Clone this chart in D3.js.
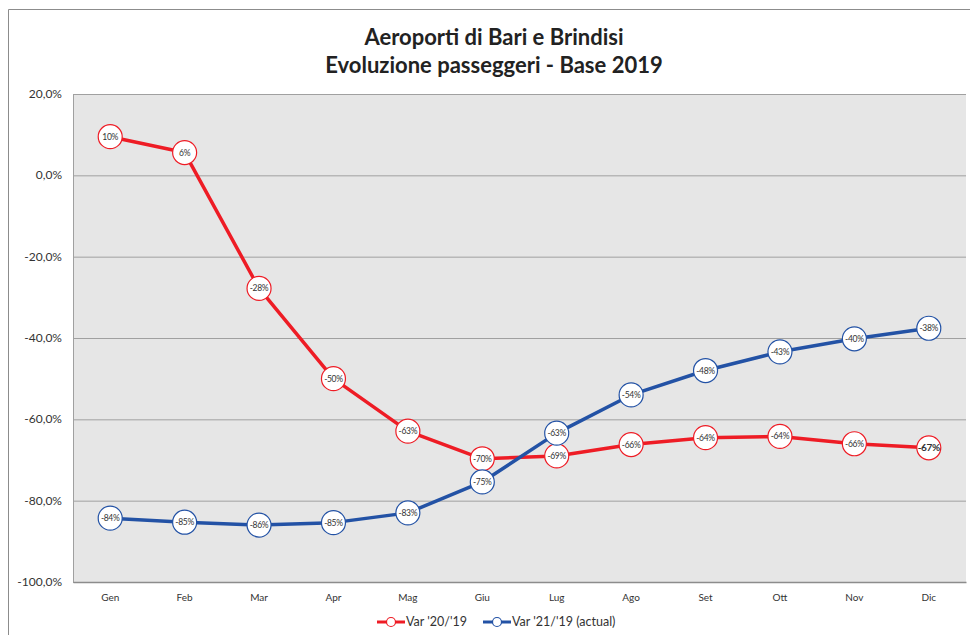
<!DOCTYPE html>
<html>
<head>
<meta charset="utf-8">
<script src="https://cdn.jsdelivr.net/npm/d3@7"></script>
<style>
  body { margin: 0; background: #fff; }
  svg { display: block; font-family: Lato, "Open Sans", sans-serif; }
</style>
</head>
<body>
<div id="chart"></div>
<script>
const WIDTH = 970;
const HEIGHT = 635;
const MARGINS = {left: 73, right: 4, top: 94, bottom: 53};

// data
const months = ["Gen", "Feb", "Mar", "Apr", "Mag", "Giu", "Lug", "Ago", "Set", "Ott", "Nov", "Dic"];
const var20 = [9.5, 5.6, -27.8, -50.0, -62.9, -69.7, -69.0, -66.2, -64.5, -64.2, -66.0, -67.0];
const var21 = [-84.3, -85.3, -86.0, -85.4, -83.0, -75.4, -63.4, -54.0, -48.0, -43.4, -40.2, -37.6];
const yTicks = [20, 0, -20, -40, -60, -80, -100];
const seriesNames = ["Var '20/'19", "Var '21/'19 (actual)"];
const seriesColors = ["#ee1c25", "#2352a5"];

const VIS_WIDTH = WIDTH - MARGINS.left - MARGINS.right;
const VIS_HEIGHT = HEIGHT - MARGINS.top - MARGINS.bottom;

const FRAME = d3.select("#chart")
  .append("svg")
    .attr("width", WIDTH)
    .attr("height", HEIGHT);

// outer chart border
FRAME.append("path")
  .attr("d", "M8.5," + HEIGHT + "V9.5H" + WIDTH)
  .attr("fill", "none")
  .attr("stroke", "#8c8c8c")
  .attr("stroke-width", 1);

// title
const TITLE = FRAME.append("text")
  .attr("text-anchor", "middle")
  .attr("font-weight", "bold")
  .attr("font-size", 22)
  .attr("fill", "#222");
TITLE.append("tspan").attr("x", 494).attr("y", 45).text("Aeroporti di Bari e Brindisi");
TITLE.append("tspan").attr("x", 494).attr("y", 73).text("Evoluzione passeggeri - Base 2019");

const X_SCALE = d3.scaleBand()
  .domain(months)
  .range([MARGINS.left, MARGINS.left + VIS_WIDTH]);

const Y_SCALE = d3.scaleLinear()
  .domain([-100, 20])
  .range([MARGINS.top + VIS_HEIGHT, MARGINS.top]);

const xc = (d) => X_SCALE(d) + X_SCALE.bandwidth() / 2;

// plot background
FRAME.append("rect")
  .attr("x", MARGINS.left)
  .attr("y", MARGINS.top)
  .attr("width", VIS_WIDTH)
  .attr("height", VIS_HEIGHT)
  .attr("fill", "#e6e6e6");

// grid
FRAME.append("g")
  .attr("transform", "translate(" + MARGINS.left + ",0)")
  .call(d3.axisLeft(Y_SCALE).tickValues(yTicks).tickSize(-VIS_WIDTH).tickFormat(""))
  .call(g => g.select(".domain").attr("stroke", "#a0a0a0"))
  .call(g => g.selectAll(".tick line").attr("stroke", "#a0a0a0"));

// y labels
FRAME.append("g")
  .selectAll("text")
  .data(yTicks)
  .enter()
  .append("text")
    .attr("x", 62)
    .attr("y", (d) => Y_SCALE(d) + 4)
    .attr("text-anchor", "end")
    .attr("font-size", 12)
    .attr("fill", "#333")
    .text((d) => d.toFixed(1).replace(".", ",") + "%");

// x axis
FRAME.append("g")
  .attr("transform", "translate(0," + (MARGINS.top + VIS_HEIGHT) + ")")
  .call(d3.axisBottom(X_SCALE).tickSize(0).tickPadding(12))
  .call(g => g.select(".domain").attr("stroke", "#8c8c8c").attr("stroke-width", 1.5))
  .call(g => g.selectAll("text").attr("font-size", 10).attr("fill", "#333").attr("font-family", "Lato, sans-serif"));

// lines + markers
const series = [var20, var21];
const line = d3.line()
  .x((d, i) => xc(months[i]))
  .y((d) => Y_SCALE(d));

series.forEach((vals, s) => {
  FRAME.append("path")
    .datum(vals)
    .attr("d", line)
    .attr("fill", "none")
    .attr("stroke", seriesColors[s])
    .attr("stroke-width", 3.5)
    .attr("stroke-linejoin", "round");
});

series.forEach((vals, s) => {
  const G = FRAME.append("g");
  G.selectAll("circle")
    .data(vals)
    .enter()
    .append("circle")
      .attr("cx", (d, i) => xc(months[i]))
      .attr("cy", (d) => Y_SCALE(d))
      .attr("r", 12)
      .attr("fill", "#fff")
      .attr("stroke", seriesColors[s])
      .attr("stroke-width", 1.2);
  G.selectAll("text")
    .data(vals)
    .enter()
    .append("text")
      .attr("x", (d, i) => xc(months[i]))
      .attr("y", (d) => Y_SCALE(d) + 3)
      .attr("text-anchor", "middle")
      .attr("font-size", (d, i) => (s === 0 && i === 11) ? 10 : 8.5)
      .attr("font-weight", (d, i) => (s === 0 && i === 11) ? "bold" : "normal")
      .attr("letter-spacing", -0.3)
      .attr("fill", "#333")
      .text((d) => Math.round(d) + "%");
});

// legend
const legendX = [377, 483];
seriesNames.forEach((name, s) => {
  const L = FRAME.append("g").attr("transform", "translate(" + legendX[s] + ",622)");
  L.append("line")
    .attr("x1", 0).attr("x2", 28)
    .attr("stroke", seriesColors[s])
    .attr("stroke-width", 3);
  L.append("circle")
    .attr("cx", 14).attr("r", 4.5)
    .attr("fill", "#fff")
    .attr("stroke", seriesColors[s])
    .attr("stroke-width", 1.2);
  L.append("text")
    .attr("x", 29).attr("y", 4)
    .attr("font-size", 12.5)
    .attr("fill", "#333")
    .text(name);
});
</script>
</body>
</html>
